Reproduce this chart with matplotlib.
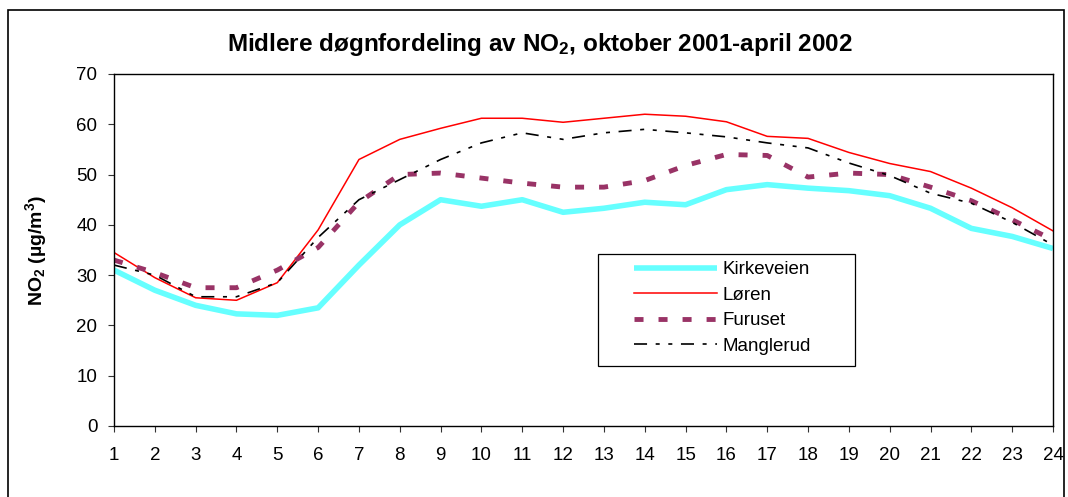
import matplotlib
matplotlib.use("Agg")
import matplotlib.pyplot as plt
from matplotlib.patches import Rectangle

plt.rcParams['font.family'] = ['Liberation Sans', 'DejaVu Sans']
plt.rcParams['lines.scale_dashes'] = False
plt.rcParams['mathtext.default'] = 'regular'

hours = list(range(1, 25))
kirkeveien = [31, 27, 24, 22.3, 22, 23.5, 32, 40, 45, 43.7, 45, 42.5,
              43.3, 44.5, 44, 47, 48, 47.3, 46.8, 45.8, 43.3, 39.3, 37.7, 35.3]
loren = [34.5, 29.5, 25.5, 25, 28.5, 39, 53, 57, 59.2, 61.2, 61.2, 60.4,
         61.2, 62, 61.6, 60.5, 57.6, 57.2, 54.4, 52.2, 50.6, 47.3, 43.4, 38.8]
furuset = [33, 30.5, 27.5, 27.5, 31, 35.5, 44.5, 50, 50.3, 49.3, 48.3, 47.5,
           47.5, 48.8, 51.8, 54, 53.8, 49.5, 50.3, 50, 47.5, 44.8, 41, 37]
manglerud = [32, 30, 25.7, 25.7, 28.5, 37.5, 45, 49, 53, 56.3, 58.3, 57,
             58.3, 59, 58.3, 57.5, 56.3, 55.3, 52.3, 49.8, 46.3, 44.3, 40.5, 36]
yticks = list(range(0, 80, 10))

W, H = 1068, 497
fig = plt.figure(figsize=(W/100, H/100), dpi=100)
ax = fig.add_axes([114/W, 1-426/H, 939/W, 352/H])

ax.plot(hours, kirkeveien, color='#66FFFF', lw=4.0, label='Kirkeveien', solid_capstyle='butt')
ax.plot(hours, loren, color='#FF0000', lw=1.1, label='Løren')
ax.plot(hours, furuset, color='#993366', lw=3.5, linestyle=(0, (6.5, 10.8)),
        dash_capstyle='butt', label='Furuset')
ax.plot(hours, manglerud, color='black', lw=1.2,
        linestyle=(0, (9.4, 6.2, 2.9, 6.2, 2.9, 6.2)), dash_capstyle='butt', label='Manglerud')

ax.set_xlim(1, 24)
ax.set_ylim(0, 70)
ax.set_xticks(hours)
ax.set_yticks(yticks)
ax.tick_params(direction='out', length=4, width=0.8, labelsize=13.5, color='#333333')
ax.tick_params(axis='y', pad=8)
ax.tick_params(axis='x', pad=11)
for s in ax.spines.values():
    s.set_linewidth(1.0)
    s.set_color('black')

fig.text(36/W, 1-250/H, 'NO$_2$ (µg/m$^3$)', rotation=90, ha='center', va='center',
         fontsize=14, fontweight='bold')
fig.text(540/W, 1-44/H, 'Midlere døgnfordeling av NO$_2$, oktober 2001-april 2002',
         ha='center', va='center', fontsize=17.5, fontweight='bold')

leg = ax.legend(loc='upper left', bbox_to_anchor=(634/W, 1-261/H),
                bbox_transform=fig.transFigure,
                fontsize=13.5, frameon=False,
                handlelength=4.4, handletextpad=0.3, labelspacing=0.45,
                borderpad=0, borderaxespad=0)

fig.patches.append(Rectangle((598/W, 1-366/H), 257/W, 112/H, transform=fig.transFigure,
                             fill=False, edgecolor='black', lw=0.9, zorder=5))
fig.patches.append(Rectangle((8/W, -0.1), 1056/W, 1.1 - 10/H, transform=fig.transFigure,
                             fill=False, edgecolor='black', lw=1.2))

fig.savefig('out.png', dpi=100)
